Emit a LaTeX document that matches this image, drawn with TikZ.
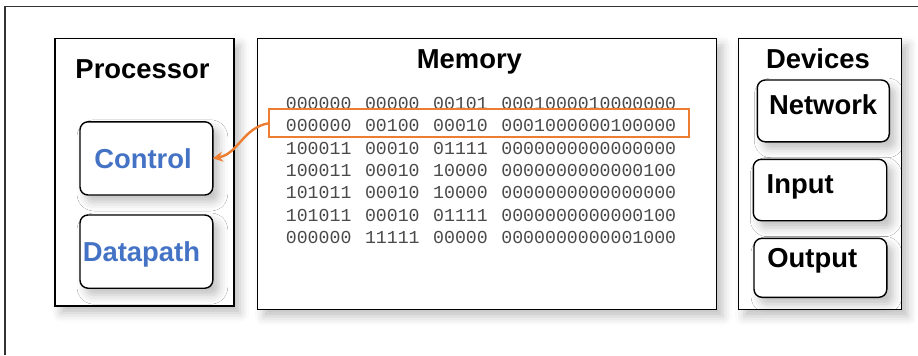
\documentclass[tikz,border=0pt]{standalone}
\usepackage{fontspec}
\setmainfont{Liberation Sans}
\newfontfamily\memfont{Liberation Mono}
\usepackage{tikz}
\usetikzlibrary{arrows.meta, positioning, shadows.blur}
\definecolor{accent}{HTML}{ED7D31}
\definecolor{unitblue}{HTML}{4472C4}
\definecolor{bitgray}{HTML}{4A4A4A}
\definecolor{framegray}{HTML}{333333}
\newcommand\memrow[4]{#1\hspace{6.8pt}#2\hspace{6.8pt}#3\hspace{6.8pt}#4}

\begin{document}
\begin{tikzpicture}[
  x=0.5pt, y=-0.5pt,
  softshadow/.style = {blur shadow={shadow xshift=3pt, shadow yshift=-3.5pt,
                       shadow blur radius=4.5pt, shadow opacity=25}},
  panel/.style  = {rectangle, draw=black, line width=0.7pt, fill=white, inner sep=0pt,
                   outer sep=0pt, softshadow},
  unit/.style   = {rectangle, rounded corners=4pt, draw=black, line width=0.7pt, fill=white,
                   inner sep=0pt, outer sep=0pt, minimum width=66.4pt, minimum height=36.6pt,
                   font=\fontsize{13.7}{15}\selectfont\bfseries, text=unitblue,
                   text height=9.8pt, text depth=0pt, softshadow},
  ttl/.style    = {inner sep=0pt, font=\fontsize{13.7}{15}\selectfont\bfseries,
                   text height=9.8pt, text depth=0pt},
  lbl/.style    = {ttl, anchor=west},
  bits/.style   = {inner sep=0pt, anchor=west, text=bitgray, font=\memfont\fontsize{9.1}{10}\selectfont,
                   text height=5.5pt, text depth=0pt},
  hlbox/.style  = {rectangle, draw=accent, line width=0.9pt, inner sep=0pt, fill=none,
                   minimum width=210pt, minimum height=14pt},
  arrow/.style  = {-{Stealth[length=5pt, width=5pt]}, line width=1.2pt, draw=accent, color=accent},
]
  \useasboundingbox (0,0) rectangle (918,355);
  \draw[framegray, line width=0.6pt] (918,6.7) -- (5,6.7) -- (5,355);

  \node[panel, minimum width=89.5pt, minimum height=133.9pt] (proc) at (144.5,172.2) {};
  \node[panel, minimum width=229.5pt, minimum height=135.5pt] (mem)  at (487.2,173.8) {};
  \node[panel, minimum width=81.7pt, minimum height=135.5pt]  (dev)  at (820,173.8) {};

  \node[ttl, below=10.1pt of proc.north, xshift=-1pt]  (proctitle) {Processor};
  \node[ttl, below=4.95pt of mem.north, xshift=-8.9pt] (memtitle)  {Memory};
  \node[ttl, below=5.1pt of dev.north, xshift=-1pt]    (devtitle)  {Devices};

  \node[unit] (ctrl)  at (146.4,158.4) {\hspace*{-3.4pt}Control};
  \node[unit, below=10pt of ctrl] (dpath) {\hspace*{-5pt}Datapath};

  \node[unit, minimum width=66pt, minimum height=30.9pt]   (net)  at (823.3,110.9) {};
  \node[unit, minimum width=66.7pt, minimum height=30.7pt] (inp)  at (820,190) {};
  \node[unit, minimum width=66.4pt, minimum height=29.5pt] (outp) at (820.4,267.8) {};

  \node[lbl] (nettxt) at ([xshift=5.7pt, yshift=-12.5pt]net.north west)  {Network};
  \node[lbl] (inptxt) at ([xshift=6.5pt, yshift=-12pt]inp.north west)    {Input};
  \node[lbl] (outtxt) at ([xshift=6.5pt, yshift=-9.9pt]outp.north west)  {Output};

  \foreach \a/\b/\c/\d [count=\i from 0] in {
      000000/00000/00101/0001000010000000,
      000000/00100/00010/0001000000100000,
      100011/00010/01111/0000000000000000,
      100011/00010/10000/0000000000000100,
      101011/00010/10000/0000000000000000,
      101011/00010/01111/0000000000000100,
      000000/11111/00000/0000000000001000}
    \node[bits] (row\i) at (285.5,{103.8+22.35*\i}) {\memrow{\a}{\b}{\c}{\d}};

  \node[hlbox] (hl) at (479.3,123.3) {};

  \draw[arrow] (hl.west) to[out=190, in=10] (ctrl.east);
\end{tikzpicture}
\end{document}
